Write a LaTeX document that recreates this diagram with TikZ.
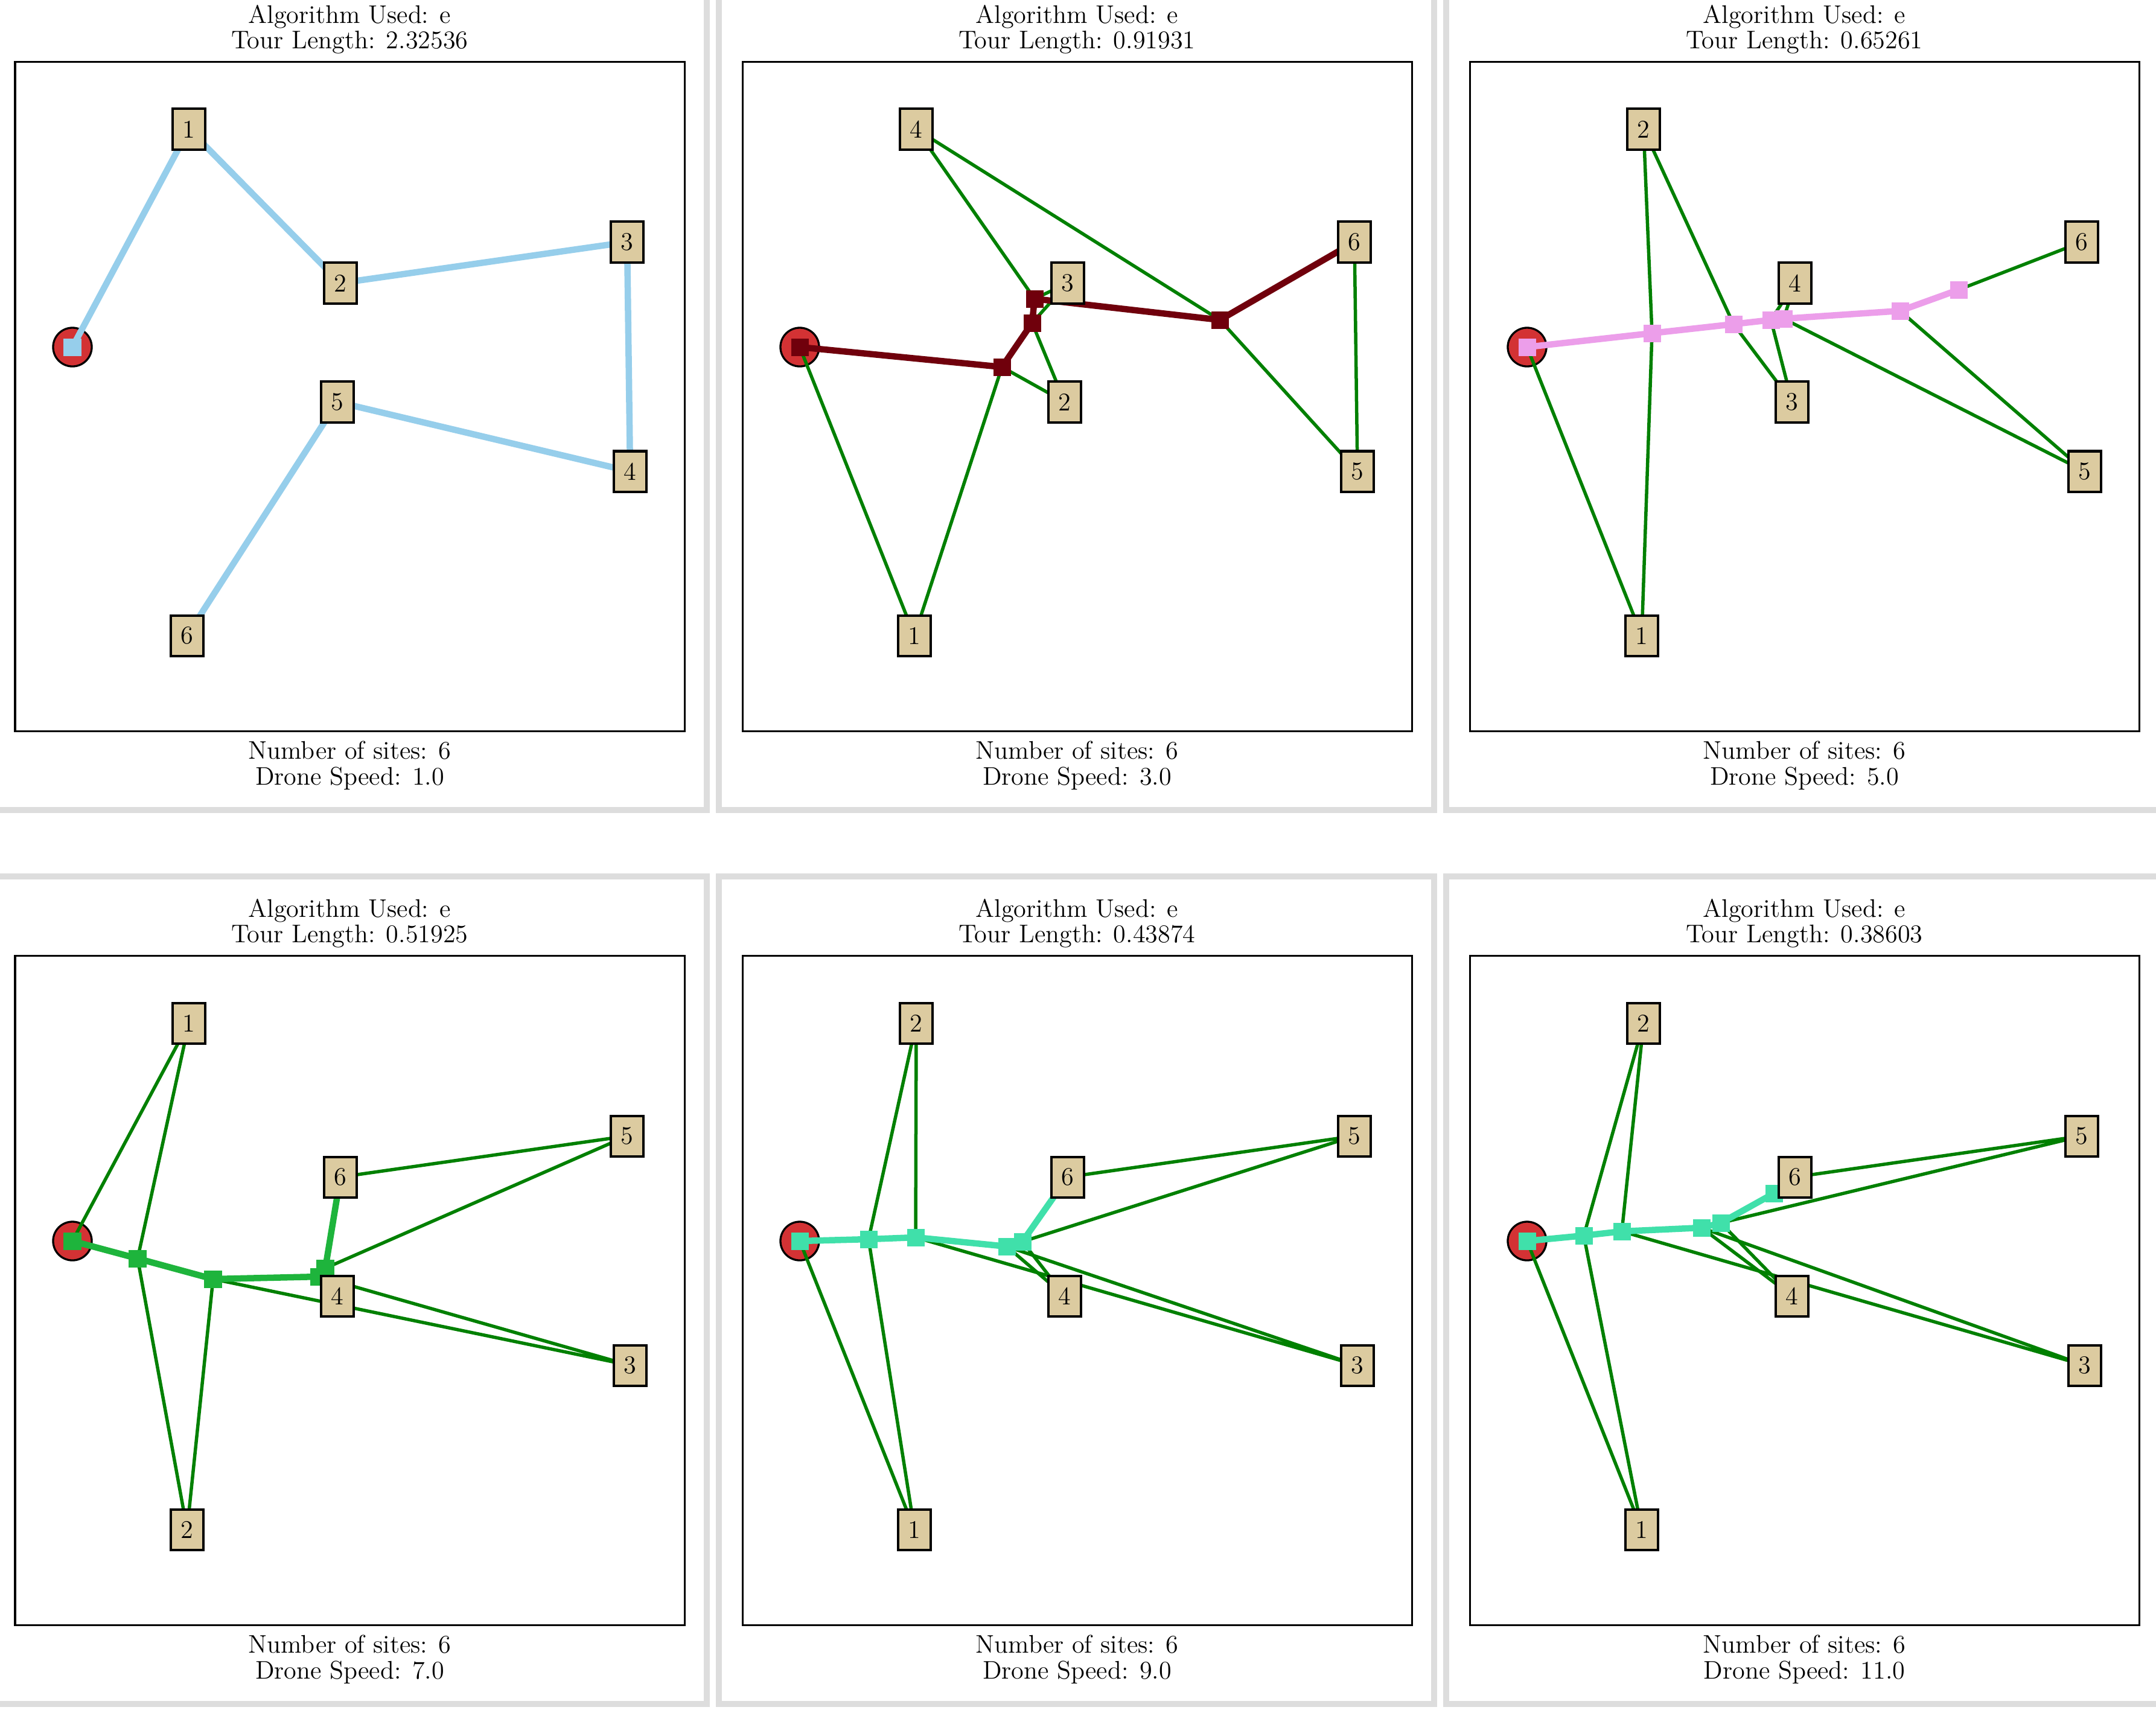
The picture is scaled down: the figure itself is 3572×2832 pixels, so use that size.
\documentclass[tikz,border=0pt]{standalone}
\usetikzlibrary{positioning}

\definecolor{sitefill}{RGB}{220,203,160}
\definecolor{depotred}{RGB}{211,50,52}
\definecolor{dronegreen}{RGB}{0,128,0}
\definecolor{framegray}{RGB}{221,221,221}
\definecolor{skyroute}{RGB}{150,206,235}
\definecolor{maroonroute}{RGB}{112,0,12}
\definecolor{violetroute}{RGB}{236,158,234}
\definecolor{greenroute}{RGB}{30,180,60}
\definecolor{turqroute}{RGB}{64,224,170}

\newcommand\plotfont{\fontsize{12}{14}\selectfont}

\pgfdeclarelayer{depotlayer}
\pgfdeclarelayer{edgelayer}
\pgfdeclarelayer{marklayer}
\pgfsetlayers{depotlayer,edgelayer,marklayer,main}

\tikzset{
  site/.style={draw=black, line width=0.04cm, fill=sitefill, minimum width=0.54cm,
    minimum height=0.67cm, inner sep=0pt, font=\plotfont},
  depot/.style={circle, draw=black, line width=0.033cm, fill=depotred,
    minimum size=0.64cm, inner sep=0pt},
  waypt/.style={fill=#1, minimum size=0.29cm, inner sep=0pt},
  sortie/.style={draw=dronegreen, line width=0.055cm, line join=round},
  truck/.style={draw=#1, line width=0.105cm, line join=round},
  panelframe/.style={draw=framegray, line width=0.1cm},
  plotbox/.style={draw=black, line width=0.03cm},
  caption/.style={anchor=base, inner sep=0pt, font=\plotfont}
}

\begin{document}
\begin{tikzpicture}[x=0.01cm, y=-0.01cm]
\useasboundingbox (0,0) rectangle (3572,2832);
\begin{pgfonlayer}{depotlayer}
\fill[white] (0,0) rectangle (3572,2832);
\end{pgfonlayer}

% panel frames and captions
\foreach \fx/\fy in {-14/-29, 1191/-29, 2396/-29, -14/1452, 1191/1452, 2396/1452}
  \draw[panelframe] (\fx,\fy) rectangle ++(1185,1371);
\foreach \ox/\oy in {25/102, 1230/102, 2435/102, 25/1583, 1230/1583, 2435/1583}
  \draw[plotbox] (\ox,\oy) rectangle ++(1109,1109);
\foreach \cx/\cy/\len/\spd [count=\i] in {579.5/0/2.32536/1.0, 1784.5/0/0.91931/3.0,
    2989.5/0/0.65261/5.0, 579.5/1481/0.51925/7.0, 1784.5/1481/0.43874/9.0,
    2989.5/1481/0.38603/11.0} {
  \node[caption] (algo\i) at (\cx,\cy+38) {Algorithm Used: e};
  \node[caption] (tour\i) at (\cx,\cy+80) {Tour Length: \len};
  \node[caption] (sites\i) at (\cx,\cy+1257) {Number of sites: 6};
  \node[caption] (speed\i) at (\cx,\cy+1300) {Drone Speed: \spd};
}

% speed 1.0
\begin{scope}[shift={(25,102)}]
\node[site] (s1-1) at (288,112) {1};
\node[site] (s1-2) at (539,367) {2};
\node[site] (s1-3) at (1014,299) {3};
\node[site] (s1-4) at (1019,679) {4};
\node[site] (s1-5) at (534,564) {5};
\node[site] (s1-6) at (285,951) {6};
\begin{pgfonlayer}{depotlayer}
\node[depot] (d1) at (95,473) {};
\end{pgfonlayer}
\begin{pgfonlayer}{marklayer}
\node[waypt=skyroute] (w1-0) at (d1) {};
\end{pgfonlayer}
\begin{pgfonlayer}{edgelayer}
\draw[truck=skyroute] (d1.center) -- (s1-1.center) -- (s1-2.center) -- (s1-3.center)
  -- (s1-4.center) -- (s1-5.center) -- (s1-6.center);
\end{pgfonlayer}
\end{scope}

% speed 3.0
\begin{scope}[shift={(1230,102)}]
\node[site] (s2-4) at (288,112) {4};
\node[site] (s2-3) at (539,367) {3};
\node[site] (s2-6) at (1014,299) {6};
\node[site] (s2-5) at (1019,679) {5};
\node[site] (s2-2) at (534,564) {2};
\node[site] (s2-1) at (285,951) {1};
\begin{pgfonlayer}{depotlayer}
\node[depot] (d2) at (95,473) {};
\end{pgfonlayer}
\begin{pgfonlayer}{marklayer}
\node[waypt=maroonroute] (w2-0) at (d2) {};
\node[waypt=maroonroute] (w2-1) at (430,506) {};
\node[waypt=maroonroute] (w2-2) at (480,433) {};
\node[waypt=maroonroute] (w2-3) at (484,393) {};
\node[waypt=maroonroute] (w2-4) at (791,428) {};
\end{pgfonlayer}
\begin{pgfonlayer}{edgelayer}
\draw[sortie] (d2.center) -- (s2-1.center) -- (w2-1.center);
\draw[sortie] (w2-1.center) -- (s2-2.center) -- (w2-2.center);
\draw[sortie] (w2-2.center) -- (s2-3.center) -- (w2-3.center);
\draw[sortie] (w2-3.center) -- (s2-4.center) -- (w2-4.center);
\draw[sortie] (w2-4.center) -- (s2-5.center) -- (s2-6.center);
\draw[truck=maroonroute] (d2.center) -- (w2-1.center) -- (w2-2.center) -- (w2-3.center)
  -- (w2-4.center) -- (s2-6.center);
\end{pgfonlayer}
\end{scope}

% speed 5.0
\begin{scope}[shift={(2435,102)}]
\node[site] (s3-2) at (288,112) {2};
\node[site] (s3-4) at (539,367) {4};
\node[site] (s3-6) at (1014,299) {6};
\node[site] (s3-5) at (1019,679) {5};
\node[site] (s3-3) at (534,564) {3};
\node[site] (s3-1) at (285,951) {1};
\begin{pgfonlayer}{depotlayer}
\node[depot] (d3) at (95,473) {};
\end{pgfonlayer}
\begin{pgfonlayer}{marklayer}
\node[waypt=violetroute] (w3-0) at (d3) {};
\node[waypt=violetroute] (w3-1) at (302,450) {};
\node[waypt=violetroute] (w3-2) at (437,435) {};
\node[waypt=violetroute] (w3-3) at (499,428) {};
\node[waypt=violetroute] (w3-4) at (520,426) {};
\node[waypt=violetroute] (w3-5) at (713,413) {};
\node[waypt=violetroute] (w3-6) at (810,378) {};
\end{pgfonlayer}
\begin{pgfonlayer}{edgelayer}
\draw[sortie] (d3.center) -- (s3-1.center) -- (w3-1.center);
\draw[sortie] (w3-1.center) -- (s3-2.center) -- (w3-2.center);
\draw[sortie] (w3-2.center) -- (s3-3.center) -- (w3-3.center);
\draw[sortie] (w3-3.center) -- (s3-4.center) -- (w3-4.center);
\draw[sortie] (w3-4.center) -- (s3-5.center) -- (w3-5.center);
\draw[sortie] (w3-6.center) -- (s3-6.center);
\draw[truck=violetroute] (d3.center) -- (w3-1.center) -- (w3-2.center) -- (w3-3.center)
  -- (w3-4.center) -- (w3-5.center) -- (w3-6.center);
\end{pgfonlayer}
\end{scope}

% speed 7.0
\begin{scope}[shift={(25,1583)}]
\node[site] (s4-1) at (288,112) {1};
\node[site] (s4-6) at (539,367) {6};
\node[site] (s4-5) at (1014,299) {5};
\node[site] (s4-3) at (1019,679) {3};
\node[site] (s4-4) at (534,564) {4};
\node[site] (s4-2) at (285,951) {2};
\begin{pgfonlayer}{depotlayer}
\node[depot] (d4) at (95,473) {};
\end{pgfonlayer}
\begin{pgfonlayer}{marklayer}
\node[waypt=greenroute] (w4-0) at (d4) {};
\node[waypt=greenroute] (w4-1) at (203,502) {};
\node[waypt=greenroute] (w4-2) at (328,536) {};
\node[waypt=greenroute] (w4-3) at (504,532) {};
\node[waypt=greenroute] (w4-4) at (514,518) {};
\end{pgfonlayer}
\begin{pgfonlayer}{edgelayer}
\draw[sortie] (d4.center) -- (s4-1.center) -- (w4-1.center);
\draw[sortie] (w4-1.center) -- (s4-2.center) -- (w4-2.center);
\draw[sortie] (w4-2.center) -- (s4-3.center) -- (w4-3.center);
\draw[sortie] (w4-3.center) -- (s4-4.center) -- (w4-4.center);
\draw[sortie] (w4-4.center) -- (s4-5.center) -- (s4-6.center);
\draw[truck=greenroute] (d4.center) -- (w4-1.center) -- (w4-2.center) -- (w4-3.center)
  -- (w4-4.center) -- (s4-6.center);
\end{pgfonlayer}
\end{scope}

% speed 9.0
\begin{scope}[shift={(1230,1583)}]
\node[site] (s5-2) at (288,112) {2};
\node[site] (s5-6) at (539,367) {6};
\node[site] (s5-5) at (1014,299) {5};
\node[site] (s5-3) at (1019,679) {3};
\node[site] (s5-4) at (534,564) {4};
\node[site] (s5-1) at (285,951) {1};
\begin{pgfonlayer}{depotlayer}
\node[depot] (d5) at (95,473) {};
\end{pgfonlayer}
\begin{pgfonlayer}{marklayer}
\node[waypt=turqroute] (w5-0) at (d5) {};
\node[waypt=turqroute] (w5-1) at (209,470) {};
\node[waypt=turqroute] (w5-2) at (287,467) {};
\node[waypt=turqroute] (w5-3) at (438,482) {};
\node[waypt=turqroute] (w5-4) at (464,474) {};
\end{pgfonlayer}
\begin{pgfonlayer}{edgelayer}
\draw[sortie] (d5.center) -- (s5-1.center) -- (w5-1.center);
\draw[sortie] (w5-1.center) -- (s5-2.center) -- (w5-2.center);
\draw[sortie] (w5-2.center) -- (s5-3.center) -- (w5-3.center);
\draw[sortie] (w5-3.center) -- (s5-4.center) -- (w5-4.center);
\draw[sortie] (w5-4.center) -- (s5-5.center) -- (s5-6.center);
\draw[truck=turqroute] (d5.center) -- (w5-1.center) -- (w5-2.center) -- (w5-3.center)
  -- (w5-4.center) -- (s5-6.center);
\end{pgfonlayer}
\end{scope}

% speed 11.0
\begin{scope}[shift={(2435,1583)}]
\node[site] (s6-2) at (288,112) {2};
\node[site] (s6-6) at (539,367) {6};
\node[site] (s6-5) at (1014,299) {5};
\node[site] (s6-3) at (1019,679) {3};
\node[site] (s6-4) at (534,564) {4};
\node[site] (s6-1) at (285,951) {1};
\begin{pgfonlayer}{depotlayer}
\node[depot] (d6) at (95,473) {};
\end{pgfonlayer}
\begin{pgfonlayer}{marklayer}
\node[waypt=turqroute] (w6-0) at (d6) {};
\node[waypt=turqroute] (w6-1) at (189,464) {};
\node[waypt=turqroute] (w6-2) at (252,457) {};
\node[waypt=turqroute] (w6-3) at (384,451) {};
\node[waypt=turqroute] (w6-4) at (416,443) {};
\node[waypt=turqroute] (w6-5) at (504,394) {};
\end{pgfonlayer}
\begin{pgfonlayer}{edgelayer}
\draw[sortie] (d6.center) -- (s6-1.center) -- (w6-1.center);
\draw[sortie] (w6-1.center) -- (s6-2.center) -- (w6-2.center);
\draw[sortie] (w6-2.center) -- (s6-3.center) -- (w6-3.center);
\draw[sortie] (w6-3.center) -- (s6-4.center) -- (w6-4.center);
\draw[sortie] (w6-4.center) -- (s6-5.center) -- (s6-6.center);
\draw[truck=turqroute] (d6.center) -- (w6-1.center) -- (w6-2.center) -- (w6-3.center)
  -- (w6-4.center) -- (w6-5.center);
\end{pgfonlayer}
\end{scope}
\end{tikzpicture}
\end{document}
